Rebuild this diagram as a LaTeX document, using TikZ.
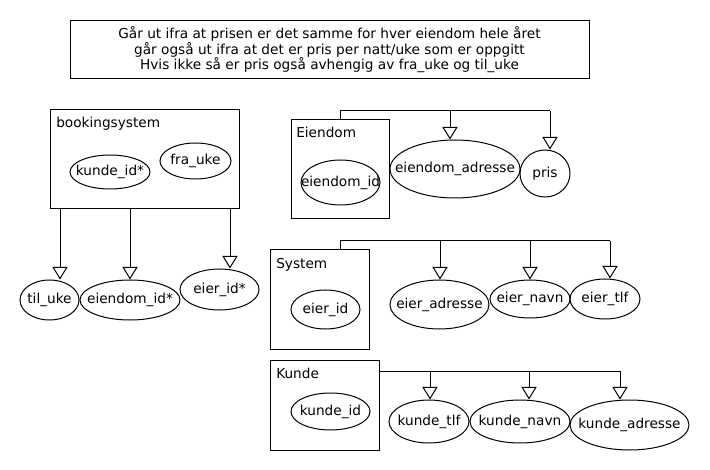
\documentclass[tikz,border=0pt]{standalone}
\usepackage{fontspec}
\setmainfont{DejaVu Sans}
\usetikzlibrary{shapes.geometric,arrows.meta}
\tikzset{
  px/.style={x=0.75pt,y=-0.75pt},
  box/.style={draw,line width=0.75pt,rectangle,inner sep=0pt},
  attr/.style={draw,line width=0.75pt,ellipse,inner sep=0pt},
  lbl/.style={anchor=base west,inner sep=0pt},
  conn/.style={line width=0.75pt},
  arr/.style={line width=0.75pt,-{Triangle[open,width=11.5pt,length=9.5pt]}},
}
\newcommand{\attrnode}[5]{\node[attr,minimum width=#3*0.75pt,minimum height=#4*0.75pt] (#1) at (#2) {\makebox[0pt]{#5}};}
\begin{document}
\begin{tikzpicture}[px,font=\fontsize{10.25}{12}\selectfont]
\useasboundingbox (0,0) rectangle (710,470);
% note
\node[box,minimum width=519*0.75pt,minimum height=58*0.75pt,align=center,font=\fontsize{10.25}{11.6}\selectfont] (note) at (329.5,50)
  {Går ut ifra at prisen er det samme for hver eiendom hele året\\går også ut ifra at det er pris per natt/uke som er oppgitt\\Hvis ikke så er pris også avhengig av fra\_uke og til\_uke};
% bookingsystem
\node[box,minimum width=189*0.75pt,minimum height=99*0.75pt] (bk) at (144.5,159.5) {};
\node[lbl] (bkl) at (56,128) {bookingsystem};
\attrnode{kidstar}{110,172}{80}{34}{kunde\_id*}
\attrnode{fra}{195.5,161}{71}{36}{fra\_uke}
\attrnode{til}{49.5,300}{59}{40}{til\_uke}
\attrnode{eidstar}{130,300}{100}{40}{eiendom\_id*}
\attrnode{eierstar}{219.5,289.5}{79}{41}{eier\_id*}
\coordinate (b1) at (60,209);
\coordinate (b2) at (130,209);
\coordinate (b3) at (230,209);
\draw[arr] (b1) -- (b1 |- til.north);
\draw[arr] (b2) -- (b2 |- eidstar.north);
\draw[arr] (b3) -- (b3 |- eierstar.north);
% Eiendom
\node[box,minimum width=98*0.75pt,minimum height=99*0.75pt] (ei) at (340,169.5) {};
\node[lbl] (eil) at (296,138) {Eiendom};
\attrnode{eid}{340.5,182.5}{79}{45}{eiendom\_id}
\attrnode{adr}{455,169}{130}{58}{eiendom\_adresse}
\attrnode{pris}{545,173.5}{50}{47}{pris}
\coordinate (e0) at (340,111);
\coordinate (e1) at (450,111);
\coordinate (e2) at (550,111);
\draw[conn] (ei.north) -- (e0) -- (e2);
\draw[arr] (e1) -- (e1 |- adr.north);
\draw[arr] (e2) -- (e2 |- pris.north);
% System
\node[box,minimum width=99*0.75pt,minimum height=99*0.75pt] (sys) at (319.5,299.5) {};
\node[lbl] (sysl) at (276,268) {System};
\attrnode{eierid}{325.5,309.5}{69}{39}{eier\_id}
\attrnode{eadr}{439.5,304.5}{99}{49}{eier\_adresse}
\attrnode{enavn}{530,299}{80}{38}{eier\_navn}
\attrnode{etlf}{605,299}{70}{40}{eier\_tlf}
\coordinate (s0) at (340,241);
\coordinate (s1) at (440,241);
\coordinate (s2) at (530,241);
\coordinate (s3) at (610,241);
\draw[conn] (sys.north -| s0) -- (s0) -- (s3);
\draw[arr] (s1) -- (s1 |- eadr.north);
\draw[arr] (s2) -- (s2 |- enavn.north);
\draw[arr] (s3) -- (s3 |- etlf.north);
% Kunde
\node[box,minimum width=109*0.75pt,minimum height=90*0.75pt] (ku) at (324.5,405) {};
\node[lbl] (kul) at (276,378) {Kunde};
\attrnode{kid}{330.5,411.5}{79}{37}{kunde\_id}
\attrnode{ktlf}{429,421.5}{80}{43}{kunde\_tlf}
\attrnode{knavn}{520,421.5}{100}{43}{kunde\_navn}
\attrnode{kadr}{629.5,425}{119}{50}{kunde\_adresse}
\coordinate (k0) at (379,371);
\coordinate (k1) at (430,371);
\coordinate (k2) at (529,371);
\coordinate (k3) at (620,371);
\draw[conn] (ku.east |- k0) -- (k3);
\draw[arr] (k1) -- (k1 |- ktlf.north);
\draw[arr] (k2) -- (k2 |- knavn.north);
\draw[arr] (k3) -- (k3 |- kadr.north);
\end{tikzpicture}
\end{document}
